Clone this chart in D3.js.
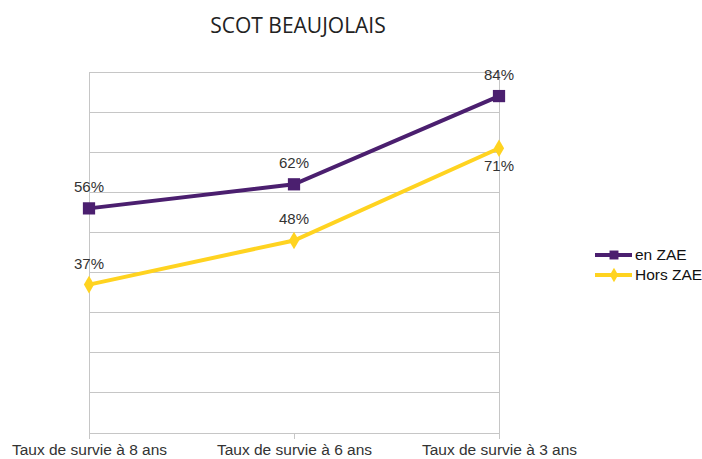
<!DOCTYPE html>
<html>
<head>
    <meta charset="utf-8">
    <title>SCOT BEAUJOLAIS</title>
    <script src="https://d3js.org/d3.v7.min.js"></script>
    <style>
        body { margin: 0; background: #fff; }
        .label { font-family: 'Liberation Sans', sans-serif; font-size: 15px; fill: #333; }
        .title { font-family: 'Open Sans', sans-serif; font-size: 21px; fill: #222; }
        .grid line { stroke: #c6c6c6; stroke-width: 1; shape-rendering: crispEdges; }
    </style>
</head>
<body>
<script>
    var categories = ["Taux de survie à 8 ans", "Taux de survie à 6 ans", "Taux de survie à 3 ans"];
    var seriesNames = ["en ZAE", "Hors ZAE"];
    var enZAE = [56, 62, 84];
    var horsZAE = [37, 48, 71];
    var yTicks = [0, 10, 20, 30, 40, 50, 60, 70, 80, 90];
    var colors = ["#4b1f6f", "#ffd320"];

    var width = 702, height = 459;
    var margin = {top: 72, right: 203, bottom: 26, left: 89};

    var svg = d3.select("body").append("svg")
        .attr("width", width)
        .attr("height", height);

    var x = d3.scalePoint()
        .domain(categories)
        .range([margin.left, width - margin.right]);

    var y = d3.scaleLinear()
        .domain([0, 90])
        .range([height - margin.bottom, margin.top]);

    // title
    svg.append("text")
        .attr("class", "title")
        .attr("x", 298)
        .attr("y", 33)
        .attr("text-anchor", "middle")
        .text("SCOT BEAUJOLAIS");

    // horizontal grid
    var grid = svg.append("g").attr("class", "grid");
    grid.selectAll("line.h").data(yTicks).enter().append("line")
        .attr("class", "h")
        .attr("x1", margin.left)
        .attr("x2", width - margin.right)
        .attr("y1", function(d) { return y(d); })
        .attr("y2", function(d) { return y(d); });

    // vertical border lines
    grid.selectAll("line.v").data([categories[0], categories[2]]).enter().append("line")
        .attr("class", "v")
        .attr("x1", function(d) { return x(d); })
        .attr("x2", function(d) { return x(d); })
        .attr("y1", y(90))
        .attr("y2", y(0) + 6);

    // x axis
    var xAxis = d3.axisBottom(x).tickSize(6).tickPadding(6);
    var gx = svg.append("g")
        .attr("transform", "translate(0," + y(0) + ")")
        .call(xAxis);
    gx.select(".domain").remove();
    gx.selectAll(".tick line").attr("stroke", "#c6c6c6");
    gx.selectAll(".tick text")
        .attr("class", "label")
        .attr("y", 22)
        .attr("dy", null)
        .style("font-family", "'Liberation Sans', sans-serif")
        .style("font-size", "15.5px")
        .attr("fill", "#333");

    var series = [
        {name: seriesNames[0], values: enZAE, color: colors[0], marker: "square"},
        {name: seriesNames[1], values: horsZAE, color: colors[1], marker: "diamond"}
    ];

    var line = d3.line()
        .x(function(d, i) { return x(categories[i]); })
        .y(function(d) { return y(d); });

    var symSquare = d3.symbol().type(d3.symbolSquare).size(150);
    var symDiamond = d3.symbol().type(d3.symbolDiamond).size(90);

    series.forEach(function(s) {
        svg.append("path")
            .datum(s.values)
            .attr("fill", "none")
            .attr("stroke", s.color)
            .attr("stroke-width", 4)
            .attr("d", line);

        svg.selectAll(null).data(s.values).enter().append("path")
            .attr("transform", function(d, i) { return "translate(" + x(categories[i]) + "," + y(d) + ")"; })
            .attr("d", s.marker === "square" ? symSquare : symDiamond)
            .attr("fill", s.color);

        svg.selectAll(null).data(s.values).enter().append("text")
            .attr("class", "label")
            .attr("text-anchor", "middle")
            .attr("x", function(d, i) { return x(categories[i]); })
            .attr("y", function(d, i) {
                // last yellow label sits below the point
                if (s.marker === "diamond" && i === 2) return y(d) + 23;
                return y(d) - 16;
            })
            .text(function(d) { return d + "%"; });
    });

    // legend
    var legend = svg.append("g");
    series.forEach(function(s, i) {
        var ly = 255 + i * 20;
        legend.append("line")
            .attr("x1", 595).attr("x2", 632)
            .attr("y1", ly).attr("y2", ly)
            .attr("stroke", s.color)
            .attr("stroke-width", 4);
        legend.append("path")
            .attr("transform", "translate(614," + ly + ")")
            .attr("d", s.marker === "square" ? d3.symbol().type(d3.symbolSquare).size(80)() : d3.symbol().type(d3.symbolDiamond).size(60)())
            .attr("fill", s.color);
        legend.append("text")
            .attr("class", "label")
            .attr("x", 635)
            .attr("y", ly + 5)
            .style("fill", "#111")
            .style("font-size", "15.5px")
            .text(s.name);
    });
</script>
</body>
</html>
